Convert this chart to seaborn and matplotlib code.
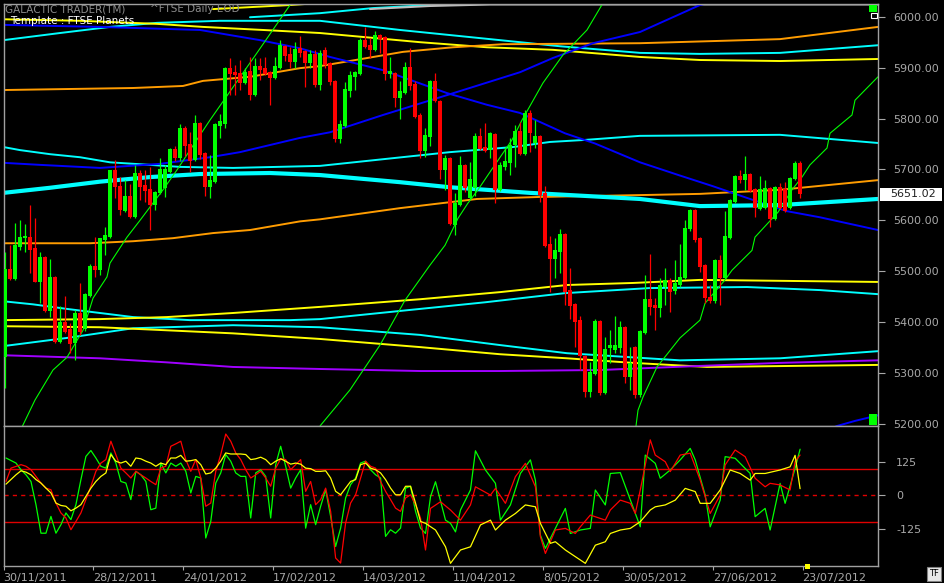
import matplotlib
matplotlib.use("Agg")

import pandas as pd
import matplotlib.pyplot as plt
import seaborn as sns
from matplotlib.patches import Rectangle
from matplotlib.transforms import blended_transform_factory

# -------------------------
# FTSE daily candles, 30/11/2011 .. 20/07/2012 (bar index = trading day)
# -------------------------
opens = [5331, 5504, 5485, 5547, 5565, 5567, 5546, 5479, 5528, 5422,
         5489, 5361, 5401, 5386, 5359, 5418, 5386, 5451, 5510, 5502,
         5561, 5568, 5699, 5667, 5619, 5648, 5607, 5694, 5669, 5661,
         5630, 5653, 5663, 5695, 5740, 5722, 5781, 5750, 5718, 5792,
         5732, 5666, 5676, 5785, 5790, 5899, 5892, 5889, 5869, 5893,
         5846, 5903, 5899, 5892, 5880, 5900, 5943, 5927, 5912, 5938,
         5933, 5910, 5927, 5866, 5935, 5910, 5874, 5760, 5786, 5855,
         5881, 5888, 5954, 5944, 5935, 5964, 5960, 5888, 5889, 5841,
         5851, 5902, 5868, 5807, 5736, 5764, 5874, 5834, 5699, 5722,
         5591, 5630, 5709, 5644, 5663, 5766, 5744, 5739, 5770, 5659,
         5705, 5713, 5748, 5776, 5731, 5810, 5751, 5766, 5653, 5553,
         5524, 5538, 5573, 5463, 5435, 5404, 5333, 5263, 5299, 5403,
         5260, 5350, 5345, 5350, 5391, 5293, 5352, 5257, 5379, 5445,
         5433, 5428, 5469, 5483, 5461, 5473, 5487, 5583, 5620, 5565,
         5512, 5449, 5441, 5522, 5487, 5565, 5636, 5687, 5679, 5691,
         5661, 5622, 5624, 5663, 5602, 5666, 5661, 5624, 5682, 5713]
highs = [5538, 5551, 5594, 5600, 5592, 5630, 5605, 5538, 5530, 5524,
         5491, 5432, 5451, 5398, 5424, 5477, 5458, 5514, 5567, 5566,
         5587, 5699, 5718, 5686, 5680, 5671, 5709, 5699, 5699, 5705,
         5658, 5722, 5709, 5742, 5746, 5789, 5785, 5774, 5807, 5794,
         5734, 5728, 5791, 5808, 5901, 5918, 5905, 5915, 5900, 5921,
         5918, 5918, 5921, 5894, 5921, 5954, 5945, 5941, 5950, 5962,
         5935, 5935, 5935, 5935, 5940, 5912, 5876, 5798, 5871, 5894,
         5894, 5958, 5980, 5958, 5972, 5967, 5962, 5921, 5891, 5874,
         5912, 5939, 5874, 5810, 5781, 5876, 5889, 5836, 5728, 5724,
         5653, 5726, 5711, 5715, 5772, 5781, 5791, 5774, 5772, 5714,
         5744, 5761, 5787, 5794, 5817, 5817, 5798, 5768, 5667, 5569,
         5565, 5583, 5575, 5506, 5437, 5412, 5335, 5322, 5407, 5405,
         5371, 5384, 5412, 5403, 5393, 5352, 5354, 5385, 5492, 5534,
         5447, 5487, 5506, 5487, 5522, 5553, 5600, 5622, 5622, 5567,
         5514, 5473, 5524, 5532, 5618, 5642, 5689, 5699, 5726, 5693,
         5663, 5687, 5680, 5665, 5668, 5673, 5676, 5686, 5717, 5717]
lows = [5270, 5483, 5483, 5541, 5537, 5496, 5479, 5438, 5420, 5411,
        5359, 5359, 5379, 5340, 5325, 5374, 5383, 5449, 5489, 5492,
        5532, 5566, 5643, 5610, 5617, 5604, 5605, 5640, 5636, 5581,
        5620, 5651, 5645, 5693, 5716, 5716, 5726, 5695, 5716, 5720,
        5648, 5644, 5674, 5762, 5782, 5846, 5846, 5856, 5867, 5836,
        5844, 5876, 5885, 5826, 5878, 5898, 5913, 5899, 5899, 5921,
        5862, 5899, 5862, 5856, 5900, 5866, 5754, 5752, 5784, 5843,
        5856, 5886, 5939, 5918, 5933, 5928, 5876, 5879, 5823, 5799,
        5849, 5856, 5801, 5722, 5725, 5747, 5832, 5681, 5659, 5590,
        5572, 5628, 5656, 5642, 5648, 5739, 5734, 5722, 5634, 5657,
        5699, 5689, 5705, 5729, 5728, 5734, 5743, 5637, 5547, 5460,
        5486, 5496, 5433, 5407, 5352, 5306, 5253, 5253, 5297, 5257,
        5258, 5319, 5339, 5340, 5281, 5267, 5251, 5253, 5377, 5414,
        5384, 5411, 5433, 5420, 5455, 5470, 5485, 5580, 5558, 5498,
        5437, 5437, 5437, 5433, 5485, 5563, 5634, 5673, 5660, 5656,
        5607, 5620, 5622, 5586, 5600, 5622, 5617, 5622, 5680, 5643]
closes = [5504, 5485, 5551, 5567, 5570, 5541, 5479, 5528, 5422, 5489,
          5361, 5401, 5381, 5358, 5418, 5381, 5455, 5510, 5502, 5566,
          5571, 5699, 5665, 5620, 5648, 5607, 5694, 5666, 5658, 5630,
          5656, 5700, 5701, 5740, 5722, 5781, 5747, 5716, 5792, 5728,
          5666, 5679, 5789, 5795, 5899, 5887, 5885, 5869, 5892, 5846,
          5903, 5895, 5887, 5880, 5903, 5944, 5923, 5912, 5937, 5928,
          5910, 5927, 5866, 5928, 5905, 5871, 5760, 5789, 5858, 5885,
          5892, 5954, 5941, 5935, 5964, 5956, 5887, 5893, 5841, 5854,
          5902, 5864, 5803, 5736, 5768, 5874, 5834, 5699, 5723, 5592,
          5635, 5709, 5664, 5682, 5766, 5741, 5736, 5771, 5659, 5709,
          5717, 5748, 5776, 5731, 5810, 5771, 5766, 5650, 5549, 5524,
          5542, 5573, 5460, 5432, 5401, 5333, 5263, 5302, 5403, 5260,
          5348, 5356, 5355, 5391, 5293, 5319, 5257, 5383, 5445, 5430,
          5428, 5473, 5483, 5459, 5477, 5489, 5585, 5620, 5561, 5508,
          5447, 5441, 5522, 5487, 5569, 5640, 5687, 5680, 5692, 5658,
          5624, 5661, 5664, 5602, 5666, 5624, 5619, 5684, 5713, 5651.02]

date_labels = ["30/11/2011", "28/12/2011", "24/01/2012", "17/02/2012", "14/03/2012",
               "11/04/2012", "8/05/2012", "30/05/2012", "27/06/2012", "23/07/2012"]
date_bars = [0, 18, 36, 54, 72, 90, 108, 124, 142, 160]
last_price = 5651.02

# -------------------------
# planetary lines (bar index, price)
# -------------------------
cyan_thick_bar = [-0.3, 9, 19, 29, 39, 53, 63, 79, 89, 105, 127, 139, 155, 174.6]
cyan_thick_px = [5654, 5664, 5676, 5685, 5691, 5693, 5689, 5675, 5665, 5654, 5642, 5628, 5630, 5642]

cyan_a_bar = [-0.3, 11, 21, 30.4, 43, 63, 79, 95, 111, 127, 139, 155, 174.6]
cyan_a_px = [5954, 5968, 5980, 5988, 5992, 5992, 5974, 5958, 5942, 5929, 5927, 5929, 5944]

cyan_b_bar = [-0.3, 3, 9, 15, 21, 29, 35, 45.6, 63, 89, 101.6, 109, 116, 127, 155, 174.6]
cyan_b_px = [5744, 5738, 5730, 5724, 5714, 5709, 5705, 5703, 5707, 5734, 5744, 5754, 5758, 5766, 5768, 5752]

cyan_c_bar = [-0.3, 5.6, 12.4, 19, 25.6, 37, 57, 63, 79, 96, 112, 129, 148.4, 163, 174.6]
cyan_c_px = [5441, 5435, 5426, 5418, 5410, 5404, 5404, 5406, 5422, 5439, 5457, 5467, 5469, 5463, 5455]

cyan_d_bar = [-0.3, 12.4, 25.6, 45.6, 63, 83, 99, 112.4, 135, 155, 174.6]
cyan_d_px = [5353, 5369, 5388, 5394, 5390, 5375, 5355, 5339, 5325, 5329, 5343]

cyan_top_bar = [49, 63, 73.6, 85]
cyan_top_px = [5999, 6007, 6017, 6023]

silver_bar = [73, 85, 97, 174.6]
silver_px = [6015, 6021, 6024, 6024]

blue_fall_bar = [-0.3, 19, 39, 51, 59, 65, 75.6, 88.4, 96.4, 103, 112, 118, 127, 135, 141.6, 149.6, 156.4, 163, 174.6]
blue_fall_px = [5984, 5980, 5974, 5954, 5938, 5921, 5895, 5850, 5827, 5811, 5771, 5751, 5714, 5688, 5667, 5640, 5618, 5606, 5581]

blue_rise_bar = [-0.3, 7, 19, 31, 41, 47, 53, 59, 65, 75.6, 88.4, 103, 109.6, 117.6, 127, 139, 143]
blue_rise_px = [5713, 5709, 5703, 5711, 5724, 5734, 5748, 5762, 5773, 5807, 5846, 5891, 5919, 5948, 5970, 6023, 6033]

blue_low_bar = [165, 166.4, 170, 174.6]
blue_low_px = [5190, 5196, 5206, 5217]

yellow_a_bar = [-0.3, 15, 30.4, 39.6, 51.6, 63, 83, 96.4, 109.6, 127, 139, 155, 174.6]
yellow_a_px = [5995, 5992, 5986, 5980, 5974, 5968, 5950, 5940, 5935, 5921, 5915, 5913, 5917]

yellow_top_bar = [41.6, 57, 63]
yellow_top_px = [6015, 6023, 6027]

yellow_b_bar = [-0.3, 19, 32.4, 45.6, 63, 83, 99, 112.4, 125.6, 139, 174.6]
yellow_b_px = [5404, 5406, 5410, 5418, 5430, 5445, 5459, 5473, 5477, 5483, 5479]

yellow_c_bar = [-0.3, 19, 32.4, 45.6, 63, 83, 99, 112.4, 125.6, 140.4, 174.6]
yellow_c_px = [5392, 5390, 5384, 5378, 5367, 5351, 5337, 5329, 5320, 5312, 5316]

orange_a_bar = [-0.3, 25.6, 35.6, 39.6, 49, 59, 63, 79.6, 89.6, 99.6, 127, 155, 174.6]
orange_a_px = [5856, 5860, 5864, 5874, 5882, 5899, 5903, 5931, 5940, 5946, 5948, 5956, 5980]

orange_b_bar = [-0.3, 17, 25.6, 33.6, 41.6, 49, 59, 63, 79, 94.4, 107, 129, 139, 155, 174.6]
orange_b_px = [5555, 5555, 5559, 5565, 5575, 5581, 5598, 5602, 5624, 5642, 5646, 5650, 5652, 5660, 5679]

purple_bar = [-0.3, 19, 32.4, 45.6, 63, 83, 99, 119, 139, 155, 174.6]
purple_px = [5335, 5329, 5321, 5312, 5308, 5304, 5304, 5306, 5314, 5320, 5325]

moon1_bar = [3.5, 6, 9.6, 12.4, 15.6, 17.6, 20.4, 21, 24.4, 27, 29.6, 31.6, 34.4, 37, 41, 50.4, 57, 58]
moon1_px = [5196, 5247, 5306, 5331, 5384, 5447, 5489, 5516, 5567, 5600, 5634, 5660, 5699, 5738, 5797, 5929, 6023, 6040]

moon2_bar = [63, 69, 75, 80, 85, 88, 90.6, 92.6, 94.6, 97, 101.4, 103.4, 107.6, 111.6, 116.4, 119.6, 120.2]
moon2_px = [5196, 5267, 5355, 5443, 5512, 5551, 5604, 5634, 5660, 5695, 5758, 5797, 5870, 5925, 5974, 6027, 6033]

moon3_bar = [126.2, 126.6, 127.6, 130.4, 135, 139, 140, 144, 145.4, 149.4, 150, 154.6, 157.4, 159.4, 161, 164.4, 165, 169.4, 170, 174.6]
moon3_px = [5196, 5227, 5253, 5312, 5369, 5404, 5437, 5483, 5502, 5541, 5567, 5616, 5660, 5685, 5709, 5742, 5771, 5807, 5836, 5882]

# -------------------------
# oscillator (CCI style)
# -------------------------
osc_green_bar = [0] + list(range(2, 84)) + [
    84, 85, 86, 88, 89, 90, 91, 93, 94, 96, 98, 99, 101, 103, 105, 106, 107, 108,
    110, 112, 113, 115, 117, 118, 120, 121, 123, 126, 127, 128, 130, 131, 133, 135,
    137, 138, 140, 141, 143, 144, 146, 149, 150, 152, 153, 155, 156, 158, 159]
osc_green = [140, 121, 96, 77, 52, -35, -142, -142, -79, -142, -110, -66, -91, -35, 59,
             146, 168, 140, 109, 102, 159, 121, 52, 46, -16, 90, 77, 52, -54, -48, 121,
             84, 121, 109, 121, 90, 9, 71, 65, -160, -98, 46, 84, 153, 128, 84, 71, 71,
             -85, 84, 96, 71, -85, 115, 184, 109, 27, 65, 96, -123, -35, -110, -41, 21,
             -79, -192, -123, -10, 40, 65, 121, 128, 96, 77, 65, -154, -129, -142, -123,
             27, 34, -60, -123,
             -143, -5, 51, -93, -105, -137, -55, 20, 167, 95, 45, -93, -36, 82, 133, 57,
             -149, -199, -124, -49, -143, -130, -124, 20, -36, 82, 85, -68, -118, 151,
             120, 64, 95, 133, 176, 133, 1, -118, -18, 145, 139, 82, -80, -49, -130, 45,
             -30, 101, 173]

osc_red_bar = [0, 1] + list(range(3, 84)) + [
    84, 85, 87, 89, 91, 93, 94, 97, 98, 100, 102, 104, 106, 107, 108, 110, 112, 114,
    115, 117, 120, 121, 123, 125, 126, 127, 129, 130, 132, 133, 135, 137, 139, 141,
    143, 144, 146, 148, 150, 152, 153, 155, 157, 158, 159]
osc_red = [52, 102, 115, 109, 96, 71, 46, 27, 21, -29, -66, -85, -129, -98, -66, -16,
           34, 90, 121, 134, 203, 153, 102, 84, 65, 90, 77, 65, 52, 40, 102, 109, 184,
           193, 203, 134, 90, 134, 65, -41, -29, 90, 153, 230, 203, 159, 134, 96, 65,
           77, 90, 65, 34, 102, 137, 134, 96, 115, 134, 15, 52, -35, -16, 27, -60, -235,
           -254, -104, -29, 2, 65, 128, 109, 102, 52, 15, -16, -48, -60, -10, 2, -35, -85,
           -205, -49, -24, -55, -93, -36, 32, 1, 26, -30, 70, 120, 32, -155, -218, -130,
           -124, -143, -118, -74, -93, -55, -18, -30, -68, 20, 208, 151, 126, 89, 151,
           158, 57, -68, 1, 114, 170, 145, 64, 32, 45, 39, 20, 126, 151]

osc_yellow_bar = [0] + list(range(2, 84)) + [
    84, 86, 88, 89, 91, 93, 95, 97, 98, 100, 102, 104, 106, 107, 109, 110, 112, 114,
    116, 118, 120, 121, 123, 125, 127, 129, 130, 132, 134, 136, 138, 139, 141, 143,
    145, 147, 149, 150, 152, 155, 156, 157, 158, 159]
osc_yellow = [42, 77, 92, 87, 77, 59, 46, 27, 9, -29, -38, -41, -58, -48, -35, -4, 27,
              52, 71, 84, 153, 128, 121, 128, 109, 140, 137, 128, 121, 109, 121, 115,
              140, 140, 150, 128, 130, 134, 115, 80, 84, 102, 128, 159, 155, 155, 155,
              153, 134, 137, 143, 134, 115, 128, 137, 128, 117, 121, 117, 102, 100, 90,
              90, 92, 65, 15, 2, 27, 52, 59, 115, 121, 102, 96, 84, 59, 27, 2, 2, 34, 34,
              -29, -98,
              -105, -130, -193, -255, -205, -193, -111, -93, -130, -93, -68, -36, -43,
              -105, -180, -174, -205, -230, -255, -187, -174, -143, -130, -124, -99, -55,
              -43, -36, -18, 26, 14, -30, -30, 20, 95, 82, 57, 82, 82, 95, 101, 107, 150, 25]
osc_levels = [100, -100]
osc_ticks = [125, 0, -125]

# -------------------------
# STYLE
# -------------------------
sns.set_theme(style="dark", rc={
    "axes.facecolor": "black",
    "figure.facecolor": "black",
    "axes.edgecolor": "#a0a0a0",
    "xtick.color": "#a8a8a8",
    "ytick.color": "#a8a8a8",
})
plt.rcParams["font.family"] = ["DejaVu Sans"]

W, H = 944, 583
fig = plt.figure(figsize=(W / 100, H / 100), dpi=100)

ax = fig.add_axes([3.5 / W, 1 - 426 / H, (878 - 3.5) / W, (426 - 3.5) / H])
ax2 = fig.add_axes([3.5 / W, 1 - 566 / H, (878 - 3.5) / W, (566 - 426) / H])

for a in (ax, ax2):
    a.set_facecolor("black")
    for s in a.spines.values():
        s.set_color("#a0a0a0")
        s.set_linewidth(1.0)
    a.grid(False)
    a.set_xlim(-0.3, 174.6)

# -------------------------
# PLANETARY LINES
# -------------------------
lines = [
    (cyan_a_bar, cyan_a_px, "#00ffff", 1.4),
    (cyan_b_bar, cyan_b_px, "#00ffff", 1.4),
    (cyan_c_bar, cyan_c_px, "#00ffff", 1.4),
    (cyan_d_bar, cyan_d_px, "#00ffff", 1.4),
    (cyan_top_bar, cyan_top_px, "#00ffff", 1.4),
    (silver_bar, silver_px, "#c0c0c0", 1.4),
    (yellow_a_bar, yellow_a_px, "#ffff00", 1.4),
    (yellow_top_bar, yellow_top_px, "#ffff00", 1.4),
    (yellow_b_bar, yellow_b_px, "#ffff00", 1.4),
    (yellow_c_bar, yellow_c_px, "#ffff00", 1.4),
    (orange_a_bar, orange_a_px, "#ff9c00", 1.4),
    (orange_b_bar, orange_b_px, "#ff9c00", 1.4),
    (purple_bar, purple_px, "#a000ff", 1.4),
    (blue_fall_bar, blue_fall_px, "#0000ff", 1.4),
    (blue_rise_bar, blue_rise_px, "#0000ff", 1.4),
    (blue_low_bar, blue_low_px, "#0000ff", 1.4),
    (cyan_thick_bar, cyan_thick_px, "#00ffff", 3.0),
    (moon1_bar, moon1_px, "#00ff00", 0.8),
    (moon2_bar, moon2_px, "#00ff00", 0.8),
    (moon3_bar, moon3_px, "#00ff00", 0.8),
]
for xs, ys, col, lw in lines:
    sns.lineplot(x=xs, y=ys, ax=ax, color=col, linewidth=lw,
                 sort=False, estimator=None, legend=False, zorder=2)

# -------------------------
# CANDLES
# -------------------------
df = pd.DataFrame({"open": opens, "high": highs, "low": lows, "close": closes})
df["bar"] = range(len(df))
df["up"] = df["close"] >= df["open"]
df["col"] = df["up"].map({True: "#00ff00", False: "#ff0000"})
df["bottom"] = df[["open", "close"]].min(axis=1)
df["height"] = (df["close"] - df["open"]).abs().clip(lower=2)

ax.vlines(df["bar"], df["low"], df["high"], colors=df["col"], linewidth=0.9, zorder=3)
ax.bar(df["bar"], df["height"], bottom=df["bottom"], width=0.64,
       color=df["col"], linewidth=0, zorder=4)

ax.set_ylim(5196, 6026)
ax.yaxis.tick_right()
ax.set_yticks(range(5200, 6001, 100))
ax.set_yticklabels([f"{v:.2f}" for v in range(5200, 6001, 100)])
ax.tick_params(axis="y", right=True, length=5, width=0.8, pad=6,
               labelsize=8, colors="#a8a8a8")
ax.set_xticks([])
ax.set_xlabel("")
ax.set_ylabel("")

# last price box
bt = blended_transform_factory(ax.transAxes, ax.transData)
ax.add_patch(Rectangle((1.0023, last_price - 13.5), 0.0709, 27, transform=bt,
                       facecolor="white", edgecolor="none", clip_on=False, zorder=6))
ax.text(1.0137, last_price, f"{last_price:.2f}", transform=bt, ha="left",
        va="center", fontsize=8, color="#202020", zorder=7)

# corner markers
ax.add_patch(Rectangle((0.9897, 0.981), 0.0095, 0.016, transform=ax.transAxes,
                       facecolor="#00ff00", edgecolor="none", zorder=6))
ax.add_patch(Rectangle((0.9915, 0.965), 0.007, 0.013, transform=ax.transAxes,
                       facecolor="black", edgecolor="white", linewidth=0.8, zorder=6))
ax.add_patch(Rectangle((0.9897, 0.003), 0.0095, 0.026, transform=ax.transAxes,
                       facecolor="#00ff00", edgecolor="none", zorder=6))

# -------------------------
# OSCILLATOR
# -------------------------
for lvl in osc_levels:
    ax2.axhline(lvl, color="#e00000", linewidth=1.0, zorder=1)
ax2.axhline(0, color="#e00000", linewidth=1.0, linestyle=(0, (3, 3)), zorder=1)

sns.lineplot(x=osc_green_bar, y=osc_green, ax=ax2, color="#00ff00", linewidth=0.9,
             sort=False, estimator=None, legend=False, zorder=2)
sns.lineplot(x=osc_red_bar, y=osc_red, ax=ax2, color="#ff0000", linewidth=0.9,
             sort=False, estimator=None, legend=False, zorder=3)
sns.lineplot(x=osc_yellow_bar, y=osc_yellow, ax=ax2, color="#ffff00", linewidth=0.9,
             sort=False, estimator=None, legend=False, zorder=4)

ax2.set_ylim(-265, 260)
ax2.yaxis.tick_right()
ax2.set_yticks(osc_ticks)
ax2.set_yticklabels([str(t) for t in osc_ticks])
ax2.tick_params(axis="y", right=True, length=5, width=0.8, pad=8,
                labelsize=8, colors="#a8a8a8")
ax2.set_xticks([b - 0.5 for b in date_bars])
ax2.set_xticklabels(date_labels, ha="left")
ax2.tick_params(axis="x", bottom=True, length=3, width=0.8, pad=2,
                labelsize=8, colors="#a8a8a8")
ax2.set_xlabel("")
ax2.set_ylabel("")

# -------------------------
# HEADER TEXT AND WIDGETS
# -------------------------
fig.text(5 / W, 1 - 9 / H, "GALACTIC TRADER(TM)", color="#8c8c8c",
         fontsize=7.5, va="center", ha="left")
fig.text(150 / W, 1 - 9 / H, "^FTSE Daily EOD", color="#8c8c8c",
         fontsize=7.5, va="center", ha="left")
fig.text(10 / W, 1 - 21.5 / H, "Template : FTSE Planets", color="white",
         fontsize=7.5, va="center", ha="left")

fig.patches.append(Rectangle((805 / W, 1 - 569 / H), 5 / W, 5 / H,
                             transform=fig.transFigure, facecolor="#ffff00",
                             edgecolor="none"))
fig.text(934 / W, 1 - 574 / H, "TF", color="black", fontsize=6, ha="center",
         va="center", bbox=dict(facecolor="#e8e8e8", edgecolor="#808080",
                                boxstyle="square,pad=0.3", linewidth=0.8))

fig.savefig("out.png", dpi=100, facecolor="black")
plt.close(fig)
